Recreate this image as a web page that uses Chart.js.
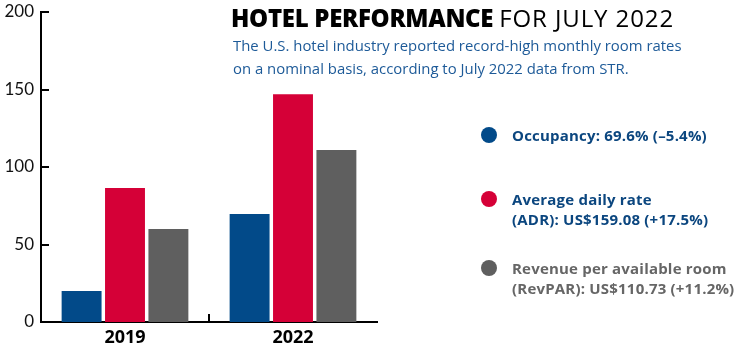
<!DOCTYPE html>
<html>
<head>
<meta charset="utf-8">
<script src="https://cdn.jsdelivr.net/npm/chart.js@4.4.1/dist/chart.umd.min.js"></script>
<style>
  html, body { margin: 0; padding: 0; background: #fff; }
  #wrap { position: relative; width: 745px; height: 347px; overflow: hidden; font-family: "Open Sans", sans-serif; }
  #wrap canvas { position: absolute; left: 0; top: 0; }
  .title { position: absolute; left: 231px; top: 1px; font-size: 24px; color: #000; white-space: nowrap; letter-spacing: -0.3px; }
  .title b { font-weight: 800; }
  .title em { font-style: normal; letter-spacing: 0.9px; }
  .sub { position: absolute; left: 233px; top: 34px; font-size: 14.9px; line-height: 23px; color: #1d5a98; white-space: nowrap; }
  .leg { position: absolute; left: 481px; font-size: 15px; font-weight: 700; line-height: 20px; white-space: nowrap; letter-spacing: 0.2px; }
  .leg i { position: absolute; left: 0; top: 2px; width: 16px; height: 16px; border-radius: 50%; }
  .leg span { display: block; padding-left: 31px; }
</style>
</head>
<body>
<div id="wrap">
  <canvas id="chart"></canvas>
  <div class="title"><b>HOTEL PERFORMANCE</b> <em>FOR JULY 2022</em></div>
  <div class="sub">The U.S. hotel industry reported record-high monthly room rates<br>on a nominal basis, according to July 2022 data from STR.</div>
  <div id="legend"></div>
</div>
<script>
// data
const years = ['2019', '2022'];
const occupancy = [20, 69.6];
const adr = [86.4, 147];
const revpar = [60, 111];
const yTicks = [0, 50, 100, 150, 200];

const colors = ['#024a89', '#d50037', '#5f5f5f'];
const legendLines = [
  ['Occupancy: 69.6% (–5.4%)'],
  ['Average daily rate', '(ADR): US$159.08 (+17.5%)'],
  ['Revenue per available room', '(RevPAR): US$110.73 (+11.2%)']
];
const legendTops = [125, 189, 258];
const legendText = ['#0b467f', '#0b467f', '#666666'];

const legend = document.getElementById('legend');
legendLines.forEach((lines, i) => {
  const d = document.createElement('div');
  d.className = 'leg';
  d.style.top = legendTops[i] + 'px';
  d.style.color = legendText[i];
  d.innerHTML = '<i style="background:' + colors[i] + '"></i><span>' + lines.join('<br>') + '</span>';
  legend.appendChild(d);
});

// short tick marks that point into the plot
const innerTicks = {
  id: 'innerTicks',
  afterDraw(chart) {
    const ctx = chart.ctx;
    const area = chart.chartArea;
    const x = chart.scales.x, y = chart.scales.y;
    ctx.save();
    ctx.fillStyle = '#000';
    y.ticks.forEach((t, i) => {
      const py = Math.round(y.getPixelForTick(i));
      ctx.fillRect(area.left, py - 1, 8, 2);
    });
    const px = Math.round(x.getPixelForValue(0.5));
    ctx.fillRect(px - 1, area.bottom - 8, 2, 8);
    ctx.restore();
  }
};

new Chart(document.getElementById('chart'), {
  type: 'bar',
  data: {
    labels: years,
    datasets: [
      { label: 'Occupancy', data: occupancy, backgroundColor: colors[0] },
      { label: 'ADR', data: adr, backgroundColor: colors[1] },
      { label: 'RevPAR', data: revpar, backgroundColor: colors[2] }
    ]
  },
  options: {
    responsive: true,
    maintainAspectRatio: false,
    animation: false,
    layout: { padding: { top: 12, right: 368, left: 0, bottom: 0 } },
    datasets: { bar: { barPercentage: 0.92, categoryPercentage: 0.775, borderWidth: 0 } },
    plugins: { legend: { display: false }, tooltip: { enabled: false } },
    scales: {
      x: {
        afterFit: s => { s.height = 25; },
        border: { color: '#000', width: 2 },
        grid: { display: false, drawTicks: false },
        ticks: { color: '#000', padding: 5, font: { family: 'Open Sans', size: 18, weight: '700' } }
      },
      y: {
        min: 0,
        max: 200,
        afterFit: s => { s.width = 41; s.paddingTop = 0; s.paddingBottom = 0; },
        afterBuildTicks: s => { s.ticks = yTicks.map(v => ({ value: v })); },
        border: { color: '#000', width: 2 },
        grid: { display: false, drawTicks: false },
        ticks: { color: '#111', padding: 7, font: { family: 'Lato', size: 17 } }
      }
    }
  },
  plugins: [innerTicks]
});
</script>
</body>
</html>
